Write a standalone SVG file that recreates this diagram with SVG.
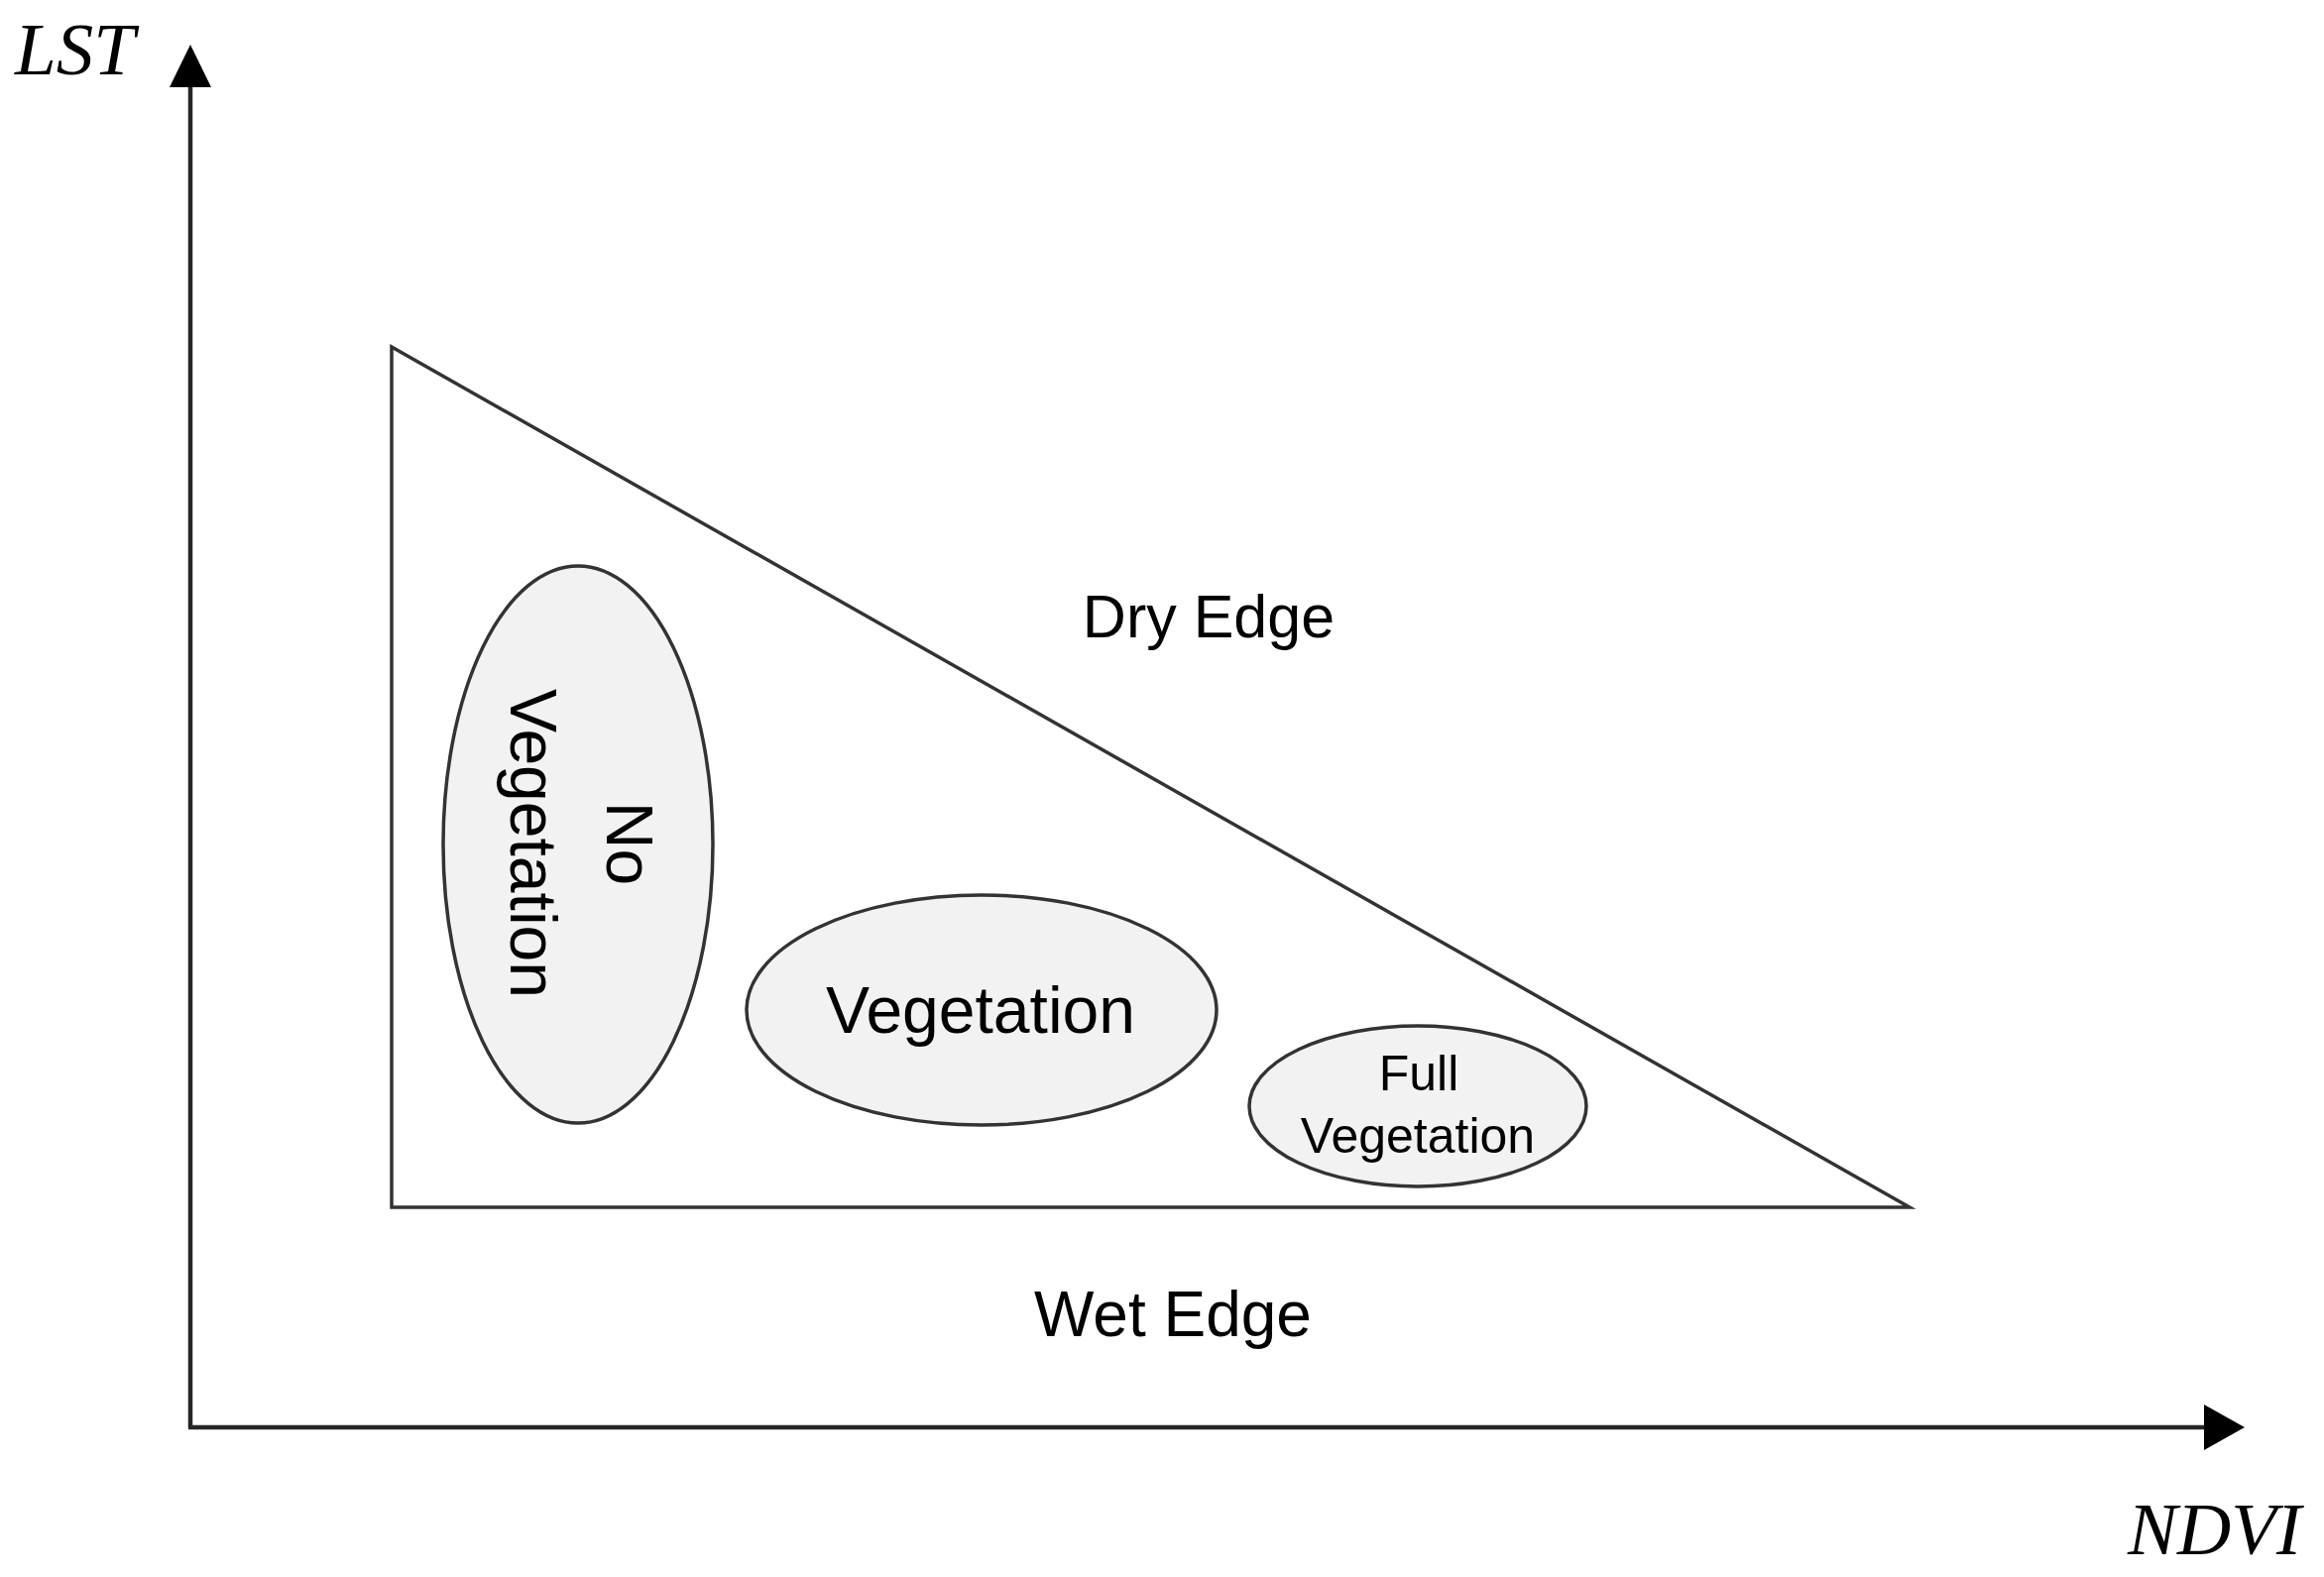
<svg xmlns="http://www.w3.org/2000/svg" width="2344" height="1591" viewBox="0 0 2344 1591">
<style>
.axis{stroke:#262626;stroke-width:4.5;fill:none}
.head{fill:#000}
.tri{fill:#fff;stroke:#333;stroke-width:3.5}
.ell{fill:#f2f2f2;stroke:#333;stroke-width:3.5}
.lbl{font-family:"Liberation Sans",Arial,sans-serif;fill:#000;text-anchor:middle}
.ax{font-family:"Liberation Serif","Times New Roman",serif;font-style:italic;font-size:75px;fill:#000}
</style>
<rect width="2344" height="1591" fill="#fff"/>
<g id="connectors">
<line class="axis" x1="192" y1="1440" x2="192" y2="86"/>
<polygon class="head" points="192,45 171,88 213,88"/>
<line class="axis" x1="190" y1="1440" x2="2225" y2="1440"/>
<polygon class="head" points="2264,1440 2223,1417 2223,1463"/>
</g>
<g id="axis-labels">
<text class="ax" x="15" y="75">LST</text>
<text class="ax" x="2146" y="1568">NDVI</text>
</g>
<g id="triangle">
<polygon class="tri" points="395,350 395,1218 1926,1218"/>
</g>
<g id="dry-edge"><text class="lbl" x="1219" y="643" font-size="61">Dry Edge</text></g>
<g id="wet-edge"><text class="lbl" x="1183" y="1348" font-size="64">Wet Edge</text></g>
<g id="no-vegetation">
<ellipse class="ell" cx="583" cy="852" rx="136" ry="281"/>
<text class="lbl" font-size="66" transform="translate(612,851) rotate(90)" x="0" y="0">No</text>
<text class="lbl" font-size="66" transform="translate(515,851) rotate(90)" x="0" y="0">Vegetation</text>
</g>
<g id="vegetation">
<ellipse class="ell" cx="990" cy="1019" rx="237" ry="116"/>
<text class="lbl" x="989" y="1042" font-size="66">Vegetation</text>
</g>
<g id="full-vegetation">
<ellipse class="ell" cx="1430" cy="1116" rx="170" ry="81"/>
<text class="lbl" x="1431" y="1100" font-size="50">Full</text>
<text class="lbl" x="1430" y="1163" font-size="50">Vegetation</text>
</g>
</svg>
